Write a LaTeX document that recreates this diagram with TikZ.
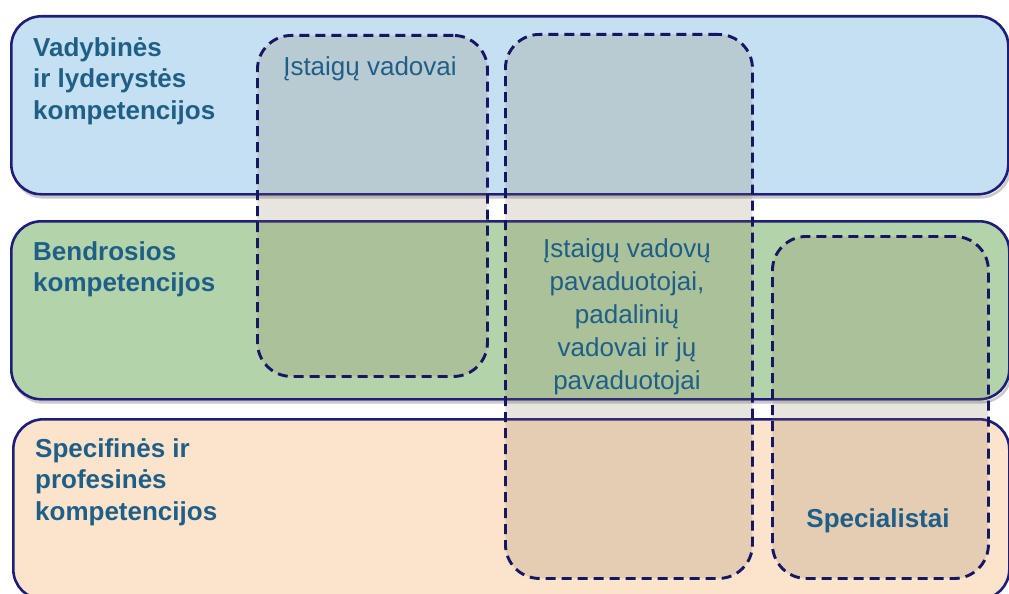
\documentclass[tikz,border=0pt]{standalone}
\usepackage{fontspec}
\setmainfont{Liberation Sans}
\definecolor{bandblue}{RGB}{197,224,240}
\definecolor{bandgreen}{RGB}{179,212,170}
\definecolor{bandpeach}{RGB}{252,227,204}
\definecolor{navy}{RGB}{30,30,120}
\definecolor{dashnavy}{RGB}{22,22,100}
\definecolor{txt}{RGB}{31,95,135}
\definecolor{overlay}{RGB}{134,113,81}
\tikzset{
  band/.style={draw=navy, line width=2.6pt, rounded corners=30pt, anchor=north west, inner sep=0pt},
  bandshadow/.style={draw=black!35, line width=2.6pt, rounded corners=30pt, anchor=north west, inner sep=0pt, opacity=0.6},
  group/.style={draw=dashnavy, line width=2.9pt, dash pattern=on 10pt off 6pt, rounded corners=34pt,
    fill=overlay, fill opacity=0.19, draw opacity=1, anchor=north west, inner sep=0pt},
  label/.style={text=txt, font=\bfseries\fontsize{26}{31.5}\selectfont, align=left, anchor=north west, inner sep=0pt},
  who/.style={text=txt, font=\fontsize{26}{33}\selectfont, align=center, inner sep=0pt, text opacity=1}
}
\begin{document}
\begin{tikzpicture}[x=1pt,y=-1pt]
\useasboundingbox (0,0) rectangle (1009,594);
\fill[white] (0,0) rectangle (1009,594);
% shadows
\node[bandshadow, minimum width=997pt, minimum height=178pt] (s1) at (12,18) {};
\node[bandshadow, minimum width=998pt, minimum height=178pt] (s2) at (12,223) {};
% bands
\node[band, fill=bandblue, minimum width=997pt, minimum height=178pt] (lead) at (10,15) {};
\node[band, fill=bandgreen, minimum width=998pt, minimum height=178pt] (gen) at (10,220) {};
\node[band, fill=bandpeach, minimum width=996pt, minimum height=180pt] (spec) at (12,418) {};
% band labels
\node[label] (l1) at (33,37) {Vadybinės\\ir lyderystės\\kompetencijos};
\node[label] (l2) at (33,241) {Bendrosios\\kompetencijos};
\node[label] (l3) at (35,438) {Specifinės ir\\profesinės\\kompetencijos};
% dashed groups
\node[group, minimum width=230pt, minimum height=341pt] (g1) at (256,34) {};
\node[group, minimum width=247pt, minimum height=544pt] (g2) at (504,33) {};
\node[group, minimum width=216pt, minimum height=342pt] (g3) at (771,235) {};
% group labels
\node[who] (t1) at (370,69) {Įstaigų vadovai};
\node[who] (t2) at (627,317) {Įstaigų vadovų\\pavaduotojai,\\padalinių\\vadovai ir jų\\pavaduotojai};
\node[who, font=\bfseries\fontsize{26}{30}\selectfont] (t3) at (878,521) {Specialistai};
\end{tikzpicture}
\end{document}
